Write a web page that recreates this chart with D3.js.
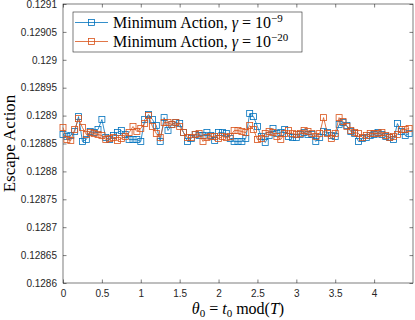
<!DOCTYPE html>
<html>
<head>
<meta charset="utf-8">
<script src="https://cdn.jsdelivr.net/npm/d3@7"></script>
<style>
  body { margin: 0; background: #fff; }
  svg { display: block; }
  .tick text { font-family: 'Liberation Sans', Arial, sans-serif; font-size: 10px; fill: #262626; }
  .serif { font-family: 'Liberation Serif', 'Times New Roman', serif; fill: #000; }
</style>
</head>
<body>
<svg id="chart" width="415" height="320"></svg>
<script>
const theta = [
  0, 0.05, 0.1, 0.15, 0.2, 0.25, 0.3, 0.35, 0.4, 0.45,
  0.5, 0.55, 0.6, 0.65, 0.7, 0.75, 0.8, 0.85, 0.9, 0.95,
  1, 1.05, 1.1, 1.15, 1.2, 1.25, 1.3, 1.35, 1.4, 1.45,
  1.5, 1.55, 1.6, 1.65, 1.7, 1.75, 1.8, 1.85, 1.9, 1.95,
  2, 2.05, 2.1, 2.15, 2.2, 2.25, 2.3, 2.35, 2.4, 2.45,
  2.5, 2.55, 2.6, 2.65, 2.7, 2.75, 2.8, 2.85, 2.9, 2.95,
  3, 3.05, 3.1, 3.15, 3.2, 3.25, 3.3, 3.35, 3.4, 3.45,
  3.5, 3.55, 3.6, 3.65, 3.7, 3.75, 3.8, 3.85, 3.9, 3.95,
  4, 4.05, 4.1, 4.15, 4.2, 4.25, 4.3, 4.35, 4.4, 4.45
];

// gamma = 1e-9
const actionG9 = [
  0.1288661, 0.1288625, 0.1288643, 0.1288714, 0.1288982, 0.1288536, 0.1288571, 0.1288714, 0.1288696, 0.1288750,
  0.1288929, 0.1288607, 0.1288571, 0.1288643, 0.1288696, 0.1288732, 0.1288661, 0.1288571, 0.1288571, 0.1288571,
  0.1288536, 0.1288929, 0.1289018, 0.1288929, 0.1288821, 0.1288536, 0.1288964, 0.1288732, 0.1288839, 0.1288875,
  0.1288857, 0.1288696, 0.1288536, 0.1288589, 0.1288661, 0.1288643, 0.1288643, 0.1288696, 0.1288643, 0.1288554,
  0.1288696, 0.1288696, 0.1288679, 0.1288589, 0.1288536, 0.1288536, 0.1288536, 0.1288589, 0.1289036, 0.1288982,
  0.1288804, 0.1288625, 0.1288518, 0.1288643, 0.1288768, 0.1288679, 0.1288696, 0.1288750, 0.1288625, 0.1288607,
  0.1288607, 0.1288661, 0.1288696, 0.1288661, 0.1288661, 0.1288536, 0.1288607, 0.1288714, 0.1288696, 0.1288643,
  0.1288625, 0.1288839, 0.1288875, 0.1288821, 0.1288714, 0.1288679, 0.1288536, 0.1288589, 0.1288607, 0.1288643,
  0.1288661, 0.1288696, 0.1288661, 0.1288625, 0.1288607, 0.1288571, 0.1288857, 0.1288714, 0.1288643, 0.1288679
];

// gamma = 1e-20
const actionG20 = [
  0.1288786, 0.1288571, 0.1288554, 0.1288750, 0.1288946, 0.1288786, 0.1288661, 0.1288696, 0.1288679, 0.1288661,
  0.1288643, 0.1288571, 0.1288589, 0.1288607, 0.1288554, 0.1288589, 0.1288625, 0.1288696, 0.1288804, 0.1288714,
  0.1288768, 0.1288857, 0.1289000, 0.1288804, 0.1288679, 0.1288607, 0.1288875, 0.1288875, 0.1288839, 0.1288875,
  0.1288804, 0.1288696, 0.1288607, 0.1288607, 0.1288661, 0.1288679, 0.1288536, 0.1288607, 0.1288625, 0.1288625,
  0.1288589, 0.1288625, 0.1288607, 0.1288625, 0.1288732, 0.1288732, 0.1288714, 0.1288696, 0.1288821, 0.1288750,
  0.1288571, 0.1288589, 0.1288679, 0.1288714, 0.1288696, 0.1288625, 0.1288571, 0.1288679, 0.1288732, 0.1288679,
  0.1288661, 0.1288679, 0.1288732, 0.1288714, 0.1288679, 0.1288625, 0.1288679, 0.1288964, 0.1288679, 0.1288589,
  0.1288679, 0.1288964, 0.1288893, 0.1288804, 0.1288732, 0.1288696, 0.1288679, 0.1288607, 0.1288643, 0.1288679,
  0.1288679, 0.1288679, 0.1288696, 0.1288643, 0.1288607, 0.1288625, 0.1288661, 0.1288750, 0.1288750, 0.1288768
];

const xTicks = [0, 0.5, 1, 1.5, 2, 2.5, 3, 3.5, 4];
const yTicks = [0.1286, 0.12865, 0.1287, 0.12875, 0.1288, 0.12885, 0.1289, 0.12895, 0.129, 0.12905, 0.1291];
const yTickLabels = ['0.1286', '0.12865', '0.1287', '0.12875', '0.1288', '0.12885', '0.1289', '0.12895', '0.129', '0.12905', '0.1291'];

const seriesNames = ['-9', '-20'];
const colors = ['#0072BD', '#D95319'];

const margin = { left: 63, right: 2, top: 4, bottom: 37 };
const width = 415, height = 320;
const svg = d3.select('#chart');

const x = d3.scaleLinear().domain([0, 4.5]).range([margin.left, width - margin.right]);
const y = d3.scaleLinear().domain([0.1286, 0.1291]).range([height - margin.bottom, margin.top]);

const axisColor = '#262626';
const tickLen = 3.5;

// box
svg.append('rect')
  .attr('x', x(0)).attr('y', y(0.1291))
  .attr('width', x(4.5) - x(0)).attr('height', y(0.1286) - y(0.1291))
  .attr('fill', '#fff').attr('stroke', axisColor).attr('stroke-width', 0.6);

// axes, ticks pointing inward like matlab
function styleAxis(g) {
  g.select('.domain').remove();
  g.selectAll('.tick line').attr('stroke', axisColor).attr('stroke-width', 0.6);
}

svg.append('g')
  .attr('transform', `translate(0,${y(0.1286)})`)
  .call(d3.axisBottom(x).tickValues(xTicks).tickSize(-tickLen).tickPadding(7).tickFormat(d3.format('')))
  .call(styleAxis);

svg.append('g')
  .attr('transform', `translate(0,${y(0.1291)})`)
  .call(d3.axisTop(x).tickValues(xTicks).tickSize(-tickLen).tickFormat(''))
  .call(styleAxis);

svg.append('g')
  .attr('transform', `translate(${x(0)},0)`)
  .call(d3.axisLeft(y).tickValues(yTicks).tickSize(-tickLen).tickPadding(6).tickFormat((d, i) => yTickLabels[i]))
  .call(styleAxis);

svg.append('g')
  .attr('transform', `translate(${x(4.5)},0)`)
  .call(d3.axisRight(y).tickValues(yTicks).tickSize(-tickLen).tickFormat(''))
  .call(styleAxis);

// series
const line = d3.line().x((d, i) => x(theta[i])).y(d => y(d));
const plot = svg.append('g').attr('class', 'series');
const markerSize = 6;

[actionG9, actionG20].forEach((vals, k) => {
  const g = plot.append('g');
  g.append('path')
    .datum(vals)
    .attr('d', line)
    .attr('fill', 'none')
    .attr('stroke', colors[k])
    .attr('stroke-width', 0.8);
  g.selectAll('rect')
    .data(vals)
    .enter()
    .append('rect')
    .attr('x', (d, i) => x(theta[i]) - markerSize / 2)
    .attr('y', d => y(d) - markerSize / 2)
    .attr('width', markerSize)
    .attr('height', markerSize)
    .attr('fill', 'none')
    .attr('stroke', colors[k])
    .attr('stroke-width', 0.8);
});

// legend
const legend = svg.append('g').attr('class', 'legend');
legend.append('rect')
  .attr('x', 73).attr('y', 12).attr('width', 229).attr('height', 40)
  .attr('fill', '#fff').attr('stroke', axisColor).attr('stroke-width', 0.6);

seriesNames.forEach((exp, k) => {
  const ly = 22.5 + k * 19;
  legend.append('line')
    .attr('x1', 75).attr('x2', 108).attr('y1', ly).attr('y2', ly)
    .attr('stroke', colors[k]).attr('stroke-width', 0.8);
  legend.append('rect')
    .attr('x', 91.5 - markerSize / 2).attr('y', ly - markerSize / 2)
    .attr('width', markerSize).attr('height', markerSize)
    .attr('fill', 'none').attr('stroke', colors[k]).attr('stroke-width', 0.8);
  const t = legend.append('text')
    .attr('class', 'serif')
    .attr('x', 113).attr('y', ly + 5)
    .attr('font-size', 16);
  t.append('tspan').text('Minimum Action, ');
  t.append('tspan').attr('font-style', 'italic').text('γ');
  t.append('tspan').text(' = 10');
  t.append('tspan').attr('font-size', 11).attr('dy', -6).text('−' + exp.slice(1));
});

// axis labels
svg.append('text')
  .attr('class', 'serif')
  .attr('transform', `translate(15,${(y(0.1286) + y(0.1291)) / 2}) rotate(-90)`)
  .attr('text-anchor', 'middle')
  .attr('font-size', 17)
  .text('Escape Action');

const xl = svg.append('text')
  .attr('class', 'serif')
  .attr('x', (x(0) + x(4.5)) / 2)
  .attr('y', 314)
  .attr('text-anchor', 'middle')
  .attr('font-size', 16);
xl.append('tspan').attr('font-style', 'italic').text('θ');
xl.append('tspan').attr('font-size', 11).attr('dy', 3).text('0');
xl.append('tspan').attr('dy', -3).text(' = ');
xl.append('tspan').attr('font-style', 'italic').text('t');
xl.append('tspan').attr('font-size', 11).attr('dy', 3).text('0');
xl.append('tspan').attr('dy', -3).text(' mod(');
xl.append('tspan').attr('font-style', 'italic').text('T');
xl.append('tspan').text(')');
</script>
</body>
</html>
